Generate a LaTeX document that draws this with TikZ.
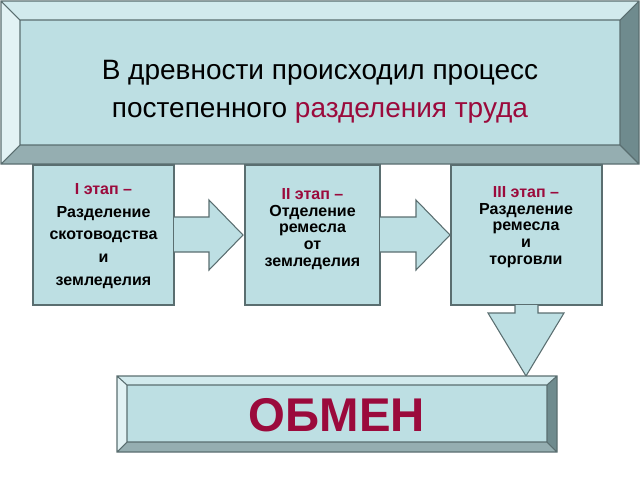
\documentclass[tikz,border=0pt]{standalone}
\usepackage{fontspec}
\setmainfont{Liberation Sans}
\begin{document}
\begin{tikzpicture}[x=0.75pt,y=-0.75pt,line join=miter,
  face/.style={fill=faceC,draw=edgeC,line width=0.8pt},
  st/.style={font=\fontsize{12}{17}\selectfont\bfseries,align=center},
  st2/.style={font=\fontsize{12}{12.5}\selectfont\bfseries,align=center},
  ]
\definecolor{faceC}{HTML}{BDDFE3}
\definecolor{edgeC}{HTML}{5A6E70}
\definecolor{topC}{HTML}{D2EAED}
\definecolor{leftC}{HTML}{E2F2F4}
\definecolor{rightC}{HTML}{6F8B8E}
\definecolor{botC}{HTML}{95AEB1}
\definecolor{redC}{HTML}{9B0A3C}
\useasboundingbox (0,0) rectangle (640,480);
% top bevel box
\fill[faceC] (20,20) rectangle (620,145);
\fill[topC] (1,1)--(639,1)--(620,20)--(20,20)--cycle;
\fill[leftC] (1,1)--(20,20)--(20,145)--(1,164)--cycle;
\fill[rightC] (639,1)--(620,20)--(620,145)--(639,164)--cycle;
\fill[botC] (1,164)--(20,145)--(620,145)--(639,164)--cycle;
\draw[edgeC,line width=0.8pt] (1,1) rectangle (639,164) (20,20) rectangle (620,145)
 (1,1)--(20,20) (639,1)--(620,20) (1,164)--(20,145) (639,164)--(620,145);
\node[font=\fontsize{21}{28.5}\selectfont,align=center] (title) at (320,92)
 {В древности происходил процесс\\постепенного \textcolor{redC}{разделения труда}};
% stage boxes
\draw[face] (33,165) rectangle (174,305);
\node[st] (s1) at (103.5,236) {\textcolor{redC}{I этап –}\\Разделение\\скотоводства\\и\\земледелия};
\draw[face] (245,165) rectangle (380,305);
\node[st2] (s2) at (312.5,229) {\textcolor{redC}{II этап –}\\Отделение\\ремесла\\от\\земледелия};
\draw[face] (451,165) rectangle (602,305);
\node[st2] (s3) at (526,227) {\textcolor{redC}{III этап –}\\Разделение\\ремесла\\и\\торговли};
% arrows
\draw[face] (174,217)--(209,217)--(209,200)--(243,235)--(209,270)--(209,252)--(174,252);
\draw[face] (380,217)--(416,217)--(416,200)--(450,235)--(416,270)--(416,252)--(380,252);
\draw[face] (515,305)--(515,313)--(488,313)--(526,376)--(564,313)--(538,313)--(538,305);
% bottom bevel box
\fill[faceC] (127,385) rectangle (547,442);
\fill[topC] (117,376)--(557,376)--(547,385)--(127,385)--cycle;
\fill[leftC] (117,376)--(127,385)--(127,442)--(117,452)--cycle;
\fill[rightC] (557,376)--(547,385)--(547,442)--(557,452)--cycle;
\fill[botC] (117,452)--(127,442)--(547,442)--(557,452)--cycle;
\draw[edgeC,line width=0.8pt] (117,376) rectangle (557,452) (127,385) rectangle (547,442)
 (117,376)--(127,385) (557,376)--(547,385) (117,452)--(127,442) (557,452)--(547,442);
\node[font=\fontsize{35.5}{40}\selectfont\bfseries,text=redC] (obmen) at (337,415) {ОБМЕН};
\end{tikzpicture}
\end{document}
